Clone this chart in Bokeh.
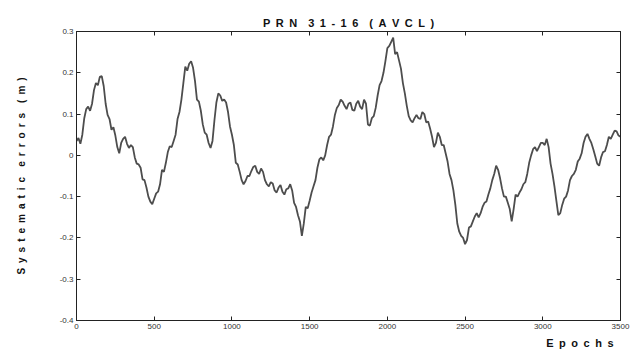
from bokeh.plotting import figure
from bokeh.models import Range1d, FixedTicker, LinearAxis, Title, PrintfTickFormatter, CustomJSTickFormatter
from bokeh.embed import file_html
from bokeh.resources import INLINE

SP = "\u2002"
GAP = "\u2002\u2002"
title_text = SP.join("PRN") + GAP + SP.join("31-16") + GAP + SP.join("(AVCL)")
x_label = SP.join("Epochs")
y_label = SP.join("Systematic") + GAP + SP.join("errors") + GAP + SP.join("(m)")

x_ticks = [0, 500, 1000, 1500, 2000, 2500, 3000, 3500]
y_ticks = [-0.4, -0.3, -0.2, -0.1, 0, 0.1, 0.2, 0.3]

# values read every 25 epochs
epochs = [
    0, 25, 50, 75, 100, 125, 150, 175, 200, 225, 250, 275, 300, 325, 350, 375,
    400, 425, 450, 475, 500, 525, 550, 575, 600, 625, 650, 675, 700, 725, 750, 775,
    800, 825, 850, 875, 900, 925, 950, 975, 1000, 1025, 1050, 1075, 1100, 1125, 1150, 1175,
    1200, 1225, 1250, 1275, 1300, 1325, 1350, 1375, 1400, 1425, 1450, 1475, 1500, 1525, 1550, 1575,
    1600, 1625, 1650, 1675, 1700, 1725, 1750, 1775, 1800, 1825, 1850, 1875, 1900, 1925, 1950, 1975,
    2000, 2025, 2050, 2075, 2100, 2125, 2150, 2175, 2200, 2225, 2250, 2275, 2300, 2325, 2350, 2375,
    2400, 2425, 2450, 2475, 2500, 2525, 2550, 2575, 2600, 2625, 2650, 2675, 2700, 2725, 2750, 2775,
    2800, 2825, 2850, 2875, 2900, 2925, 2950, 2975, 3000, 3025, 3050, 3075, 3100, 3125, 3150, 3175,
    3200, 3225, 3250, 3275, 3300, 3325, 3350, 3375, 3400, 3425, 3450, 3475, 3500,
]
errors = [
    0.035, 0.028, 0.090, 0.118, 0.125, 0.175, 0.190, 0.168, 0.098, 0.062, 0.048, 0.005, 0.040, 0.028, 0.025, -0.005,
    -0.022, -0.058, -0.078, -0.112, -0.105, -0.088, -0.035, -0.018, 0.022, 0.035, 0.088, 0.135, 0.215, 0.222, 0.212, 0.135,
    0.108, 0.055, 0.030, 0.035, 0.128, 0.145, 0.135, 0.105, 0.050, -0.018, -0.040, -0.070, -0.050, -0.038, -0.025, -0.045,
    -0.040, -0.070, -0.065, -0.085, -0.078, -0.088, -0.082, -0.070, -0.115, -0.145, -0.195, -0.125, -0.110, -0.075, -0.030, -0.005,
    0.000, 0.045, 0.070, 0.115, 0.135, 0.120, 0.125, 0.110, 0.125, 0.118, 0.135, 0.075, 0.090, 0.115, 0.170, 0.200,
    0.260, 0.275, 0.245, 0.230, 0.175, 0.120, 0.085, 0.090, 0.090, 0.105, 0.080, 0.065, 0.020, 0.055, 0.025, 0.005,
    -0.045, -0.085, -0.165, -0.195, -0.215, -0.175, -0.160, -0.140, -0.140, -0.115, -0.095, -0.060, -0.025, -0.055, -0.100, -0.115,
    -0.160, -0.095, -0.090, -0.070, -0.045, 0.000, 0.020, 0.020, 0.030, 0.040, -0.020, -0.075, -0.145, -0.120, -0.100, -0.060,
    -0.045, -0.015, 0.005, 0.045, 0.040, 0.015, -0.020, -0.005, 0.010, 0.045, 0.050, 0.058, 0.045,
]
# values read half-way between those epochs (the noisy wiggle of the trace)
errors_mid = [
    0.042, 0.050, 0.112, 0.108, 0.158, 0.170, 0.192, 0.125, 0.088, 0.068, 0.020, 0.030, 0.045, 0.018, 0.020, -0.020,
    -0.030, -0.060, -0.100, -0.118, -0.092, -0.070, -0.040, 0.008, 0.020, 0.050, 0.105, 0.175, 0.205, 0.228, 0.180, 0.130,
    0.075, 0.050, 0.018, 0.085, 0.150, 0.132, 0.128, 0.070, 0.025, -0.022, -0.060, -0.062, -0.050, -0.028, -0.040, -0.032,
    -0.060, -0.075, -0.068, -0.090, -0.072, -0.095, -0.080, -0.085, -0.125, -0.160, -0.165, -0.128, -0.090, -0.060, -0.010, -0.012,
    0.025, 0.050, 0.098, 0.122, 0.130, 0.112, 0.128, 0.108, 0.132, 0.112, 0.125, 0.072, 0.095, 0.145, 0.180, 0.228,
    0.265, 0.285, 0.250, 0.210, 0.150, 0.095, 0.080, 0.098, 0.088, 0.100, 0.082, 0.045, 0.030, 0.045, 0.025, -0.015,
    -0.060, -0.120, -0.185, -0.200, -0.205, -0.172, -0.148, -0.150, -0.125, -0.112, -0.080, -0.045, -0.035, -0.080, -0.100, -0.130,
    -0.130, -0.100, -0.082, -0.065, -0.018, 0.015, 0.010, 0.030, 0.025, 0.020, -0.045, -0.110, -0.140, -0.105, -0.085, -0.050,
    -0.035, -0.008, 0.030, 0.052, 0.030, -0.002, -0.025, 0.008, 0.025, 0.040, 0.060, 0.048,
]

xs, ys = [], []
for i, (e, v) in enumerate(zip(epochs, errors)):
    xs.append(e)
    ys.append(v)
    if i < len(errors_mid):
        xs.append((e + epochs[i + 1]) / 2)
        ys.append(errors_mid[i])

FONT = "Liberation Sans"

p = figure(width=632, height=354, output_backend="svg", toolbar_location=None,
           x_range=Range1d(0, 3500), y_range=Range1d(-0.4, 0.3),
           min_border_left=76, min_border_right=12, min_border_top=31, min_border_bottom=34)
p.background_fill_color = "white"
p.border_fill_color = "white"
p.outline_line_color = "#222222"
p.outline_line_width = 1
p.xgrid.visible = False
p.ygrid.visible = False

p.line(xs, ys, line_color="#4d4d4d", line_width=1.8)

for ax in (p.xaxis[0], p.yaxis[0]):
    ax.major_tick_in = 4
    ax.major_tick_out = 0
    ax.minor_tick_in = 0
    ax.minor_tick_out = 0
    ax.axis_line_color = "#222222"
    ax.major_tick_line_color = "#222222"
    ax.major_label_text_font = FONT
    ax.major_label_text_font_size = "8px"
    ax.major_label_text_color = "#333333"
    ax.major_label_standoff = 3
    ax.formatter = PrintfTickFormatter(format="%g")

p.xaxis[0].ticker = FixedTicker(ticks=x_ticks)
p.yaxis[0].ticker = FixedTicker(ticks=y_ticks)

p.yaxis[0].axis_label = y_label
p.yaxis[0].axis_label_text_font = FONT
p.yaxis[0].axis_label_text_font_style = "bold"
p.yaxis[0].axis_label_text_font_size = "10px"
p.yaxis[0].axis_label_text_color = "#111111"
p.yaxis[0].axis_label_standoff = 30

for side, ticks in (("right", y_ticks), ("above", x_ticks)):
    a = LinearAxis(ticker=FixedTicker(ticks=ticks), formatter=CustomJSTickFormatter(code="return ''"))
    a.major_tick_in = 4
    a.major_tick_out = 0
    a.minor_tick_in = 0
    a.minor_tick_out = 0
    a.major_label_standoff = 0
    a.axis_line_color = "#222222"
    a.major_tick_line_color = "#222222"
    p.add_layout(a, side)

p.add_layout(Title(text=x_label, align="right", text_font=FONT, text_font_style="bold",
                   text_font_size="11px", text_color="#111111", standoff=6, offset=7), "below")
p.add_layout(Title(text=title_text, align="center", text_font=FONT, text_font_style="bold",
                   text_font_size="11px", text_color="#111111", standoff=6), "above")

open("out.html", "w").write(file_html(p, INLINE))
